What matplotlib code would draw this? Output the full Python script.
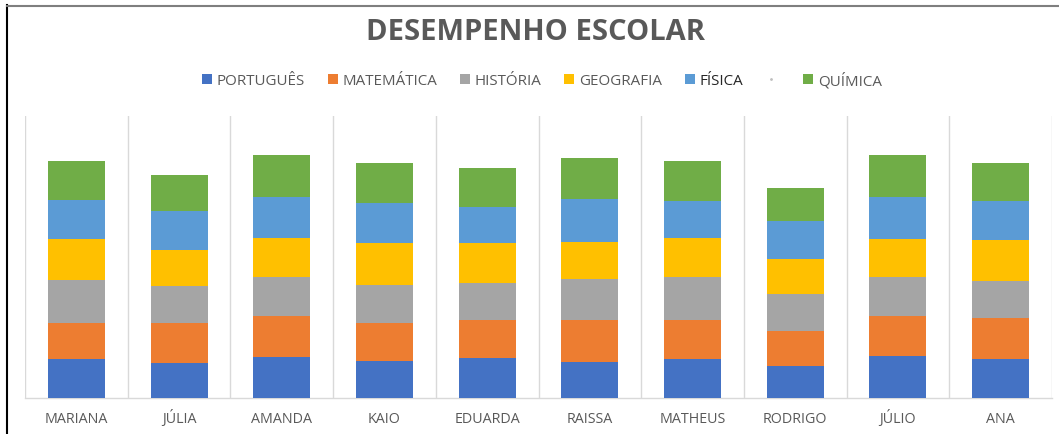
import matplotlib
matplotlib.use("Agg")
import matplotlib.pyplot as plt
from matplotlib.patches import Patch
from matplotlib.lines import Line2D
import numpy as np

students = ["MARIANA", "JÚLIA", "AMANDA", "KAIO", "EDUARDA", "RAISSA",
            "MATHEUS", "RODRIGO", "JÚLIO", "ANA"]
subjects = ["PORTUGUÊS", "MATEMÁTICA", "HISTÓRIA", "GEOGRAFIA", "FÍSICA", "QUÍMICA"]

portugues  = [8.7, 7.8, 9.1, 8.3, 8.8, 8.1, 8.6, 7.0, 9.3, 8.6]
matematica = [8.0, 8.8, 9.1, 8.3, 8.5, 9.3, 8.7, 7.8, 8.9, 9.1]
historia   = [9.6, 8.3, 8.7, 8.5, 8.3, 9.1, 9.6, 8.2, 8.7, 8.2]
geografia  = [9.1, 8.0, 8.6, 9.4, 8.9, 8.1, 8.6, 7.9, 8.4, 9.2]
fisica     = [8.5, 8.6, 9.1, 8.8, 8.0, 9.6, 8.3, 8.5, 9.3, 8.7]
quimica    = [8.8, 8.1, 9.3, 8.9, 8.5, 9.1, 8.8, 7.2, 9.3, 8.3]

series = [portugues, matematica, historia, geografia, fisica, quimica]
colors = ["#4472C4", "#ED7D31", "#A5A5A5", "#FFC000", "#5B9BD5", "#70AD47"]

W, H = 1059, 435
fig = plt.figure(figsize=(W / 100, H / 100), dpi=100)
ax = fig.add_axes([25 / W, 36 / H, (1052 - 25) / W, (399 - 117) / H])

x = np.arange(len(students))
bottom = np.zeros(len(students))
for vals, col, lab in zip(series, colors, subjects):
    ax.bar(x, vals, width=0.555, bottom=bottom, color=col, label=lab,
           edgecolor="none", zorder=3)
    bottom += np.array(vals)

ax.set_xlim(-0.5, len(students) - 0.5)
ax.set_ylim(0, 62.6)
ax.set_yticks([])
ax.set_xticks(x)
ax.set_xticklabels(students, fontfamily="Open Sans", fontsize=10.3, color="#595959")
for lab in ax.get_xticklabels():
    lab.set_verticalalignment("baseline")
ax.tick_params(axis="x", length=0, pad=17.5)
ax.set_xticks(np.arange(-0.5, len(students), 1.0), minor=True)
ax.tick_params(axis="x", which="minor", length=0)
ax.grid(True, axis="x", which="minor", color="#D9D9D9", linewidth=1.0, zorder=0)
ax.grid(False, axis="x", which="major")
for s in ["top", "right", "left"]:
    ax.spines[s].set_visible(False)
ax.spines["bottom"].set_color("#D9D9D9")
ax.spines["bottom"].set_linewidth(1.0)

# title
fig.text(536 / W, 1 - 33 / H, "DESEMPENHO ESCOLAR", ha="center", va="center",
         fontfamily="Open Sans", fontweight="bold", fontsize=21, color="#595959")

# legend
handles = [Patch(facecolor=c, edgecolor="none") for c in colors[:5]]
labels = subjects[:5]
handles.append(Line2D([], [], marker=".", markersize=2, color="#BFBFBF", linestyle="none"))
labels.append("")
handles.append(Patch(facecolor=colors[5], edgecolor="none"))
labels.append(subjects[5])
leg = fig.legend(handles, labels, loc="center", bbox_to_anchor=(542 / W, 1 - 81 / H),
                 ncol=7, frameon=False, handlelength=0.65,
                 handleheight=0.65, handletextpad=0.3, columnspacing=1.52,
                 prop={"family": "Open Sans", "size": 10.9})
for t in leg.get_texts():
    t.set_color("#595959")
leg.get_texts()[4].set_color("#262626")

# figure border lines
fig.add_artist(Line2D([7 / W, 7 / W], [0, 1 - 6 / H], color="black", linewidth=1.5,
                      transform=fig.transFigure))
fig.add_artist(Line2D([7 / W, 1], [1 - 6.5 / H, 1 - 6.5 / H], color="#7F7F7F",
                      linewidth=1.5, transform=fig.transFigure))

fig.savefig("out.png", dpi=100)
